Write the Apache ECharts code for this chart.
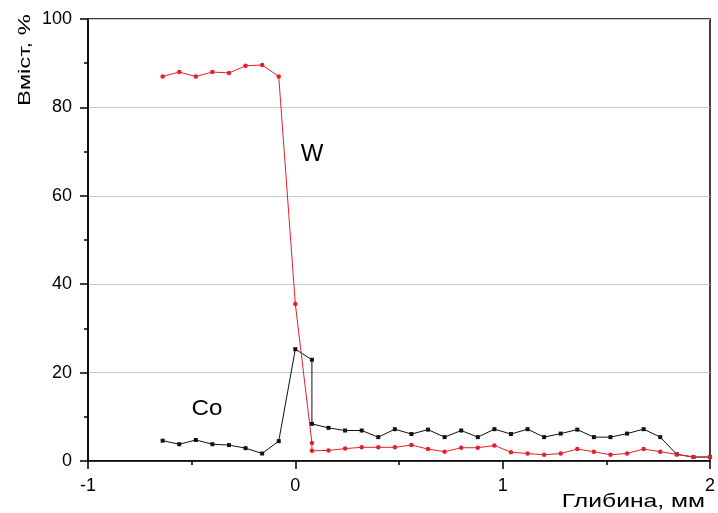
<!DOCTYPE html>
<html>
<head>
<meta charset="utf-8">
<script src="https://cdn.jsdelivr.net/npm/echarts@6/dist/echarts.min.js"></script>
<style>html,body{margin:0;padding:0;background:#fff}#c{width:718px;height:513px}</style>
</head>
<body>
<div id="c"></div>
<script>
var depth = [-0.64,-0.56,-0.48,-0.40,-0.32,-0.24,-0.16,-0.08,0,0.08,0.08,0.16,0.24,0.32,0.40,0.48,0.56,0.64,0.72,0.80,0.88,0.96,1.04,1.12,1.20,1.28,1.36,1.44,1.52,1.60,1.68,1.76,1.84,1.92,2.00];
var wValues = [87,88,87,88,87.8,89.4,89.6,87,35.5,4.1,2.3,2.4,2.8,3.1,3.1,3.1,3.6,2.7,2.1,3.0,3.0,3.5,2.0,1.7,1.4,1.7,2.7,2.1,1.4,1.7,2.7,2.1,1.5,0.9,0.9];
var coValues = [4.6,3.8,4.75,3.8,3.6,2.9,1.7,4.5,25.3,22.9,8.4,7.5,6.9,6.9,5.4,7.2,6.1,7.1,5.4,6.9,5.4,7.2,6.1,7.2,5.4,6.2,7.1,5.4,5.4,6.2,7.2,5.4,1.5,0.9,0.9];
var xTicks = [-1,0,1,2];
var yTicks = [0,20,40,60,80,100];

function pairs(xs, ys){ return xs.map(function(x,i){return [x, ys[i]];}); }

var font = 'Liberation Sans, Arial, sans-serif';
var chart = echarts.init(document.getElementById('c'), null, {renderer:'canvas'});
chart.setOption({
  animation:false,
  backgroundColor:'#fff',
  grid:{left:88, right:6, top:19, bottom:52, show:true, borderColor:'#000', borderWidth:1.5, backgroundColor:'transparent'},
  xAxis:{
    type:'value', min:-1, max:2, interval:1,
    axisLine:{show:true, onZero:false, lineStyle:{color:'#000', width:1.5}},
    axisTick:{show:true, inside:false, length:8, lineStyle:{color:'#000', width:1.5}},
    minorTick:{show:true, splitNumber:2, length:4, lineStyle:{color:'#000', width:1.5}},
    splitLine:{show:false},
    axisLabel:{color:'#000', fontSize:18, fontFamily:font, margin:16,
      formatter:function(v){ return xTicks.indexOf(v)>=0 ? String(v) : ''; }}
  },
  yAxis:{
    type:'value', min:0, max:100, interval:20,
    axisLine:{show:true, onZero:false, lineStyle:{color:'#000', width:1.5}},
    axisTick:{show:true, inside:false, length:8, lineStyle:{color:'#000', width:1.5}},
    minorTick:{show:true, splitNumber:2, length:4, lineStyle:{color:'#000', width:1.5}},
    splitLine:{show:true, lineStyle:{color:'#c8c8c8', width:1}},
    axisLabel:{color:'#000', fontSize:18, fontFamily:font, margin:16,
      formatter:function(v){ return yTicks.indexOf(v)>=0 ? String(v) : ''; }}
  },
  series:[
    {name:'W', type:'line', data:pairs(depth, wValues), symbol:'circle', symbolSize:4.5,
      lineStyle:{color:'#e3212b', width:1}, itemStyle:{color:'#e3212b'}, z:3},
    {name:'Co', type:'line', data:pairs(depth, coValues), symbol:'rect', symbolSize:4,
      lineStyle:{color:'#111', width:1}, itemStyle:{color:'#111'}, z:2}
  ],
  graphic:[
    {type:'text', x:312, y:154, style:{text:'W', font:'24px '+font, fill:'#000', textAlign:'center', textVerticalAlign:'middle'}},
    {type:'text', x:207, y:409, scaleX:1.1, style:{text:'Co', font:'22px '+font, fill:'#000', textAlign:'center', textVerticalAlign:'middle'}},
    {type:'text', x:25, y:60, rotation:Math.PI/2, scaleX:1.4, style:{text:'Вміст, %', font:'17px '+font, fill:'#000', textAlign:'center', textVerticalAlign:'middle'}},
    {type:'text', x:705, y:502, scaleX:1.3, style:{text:'Глибина, мм', font:'19px '+font, fill:'#000', textAlign:'right', textVerticalAlign:'middle'}}
  ]
});
</script>
</body>
</html>
